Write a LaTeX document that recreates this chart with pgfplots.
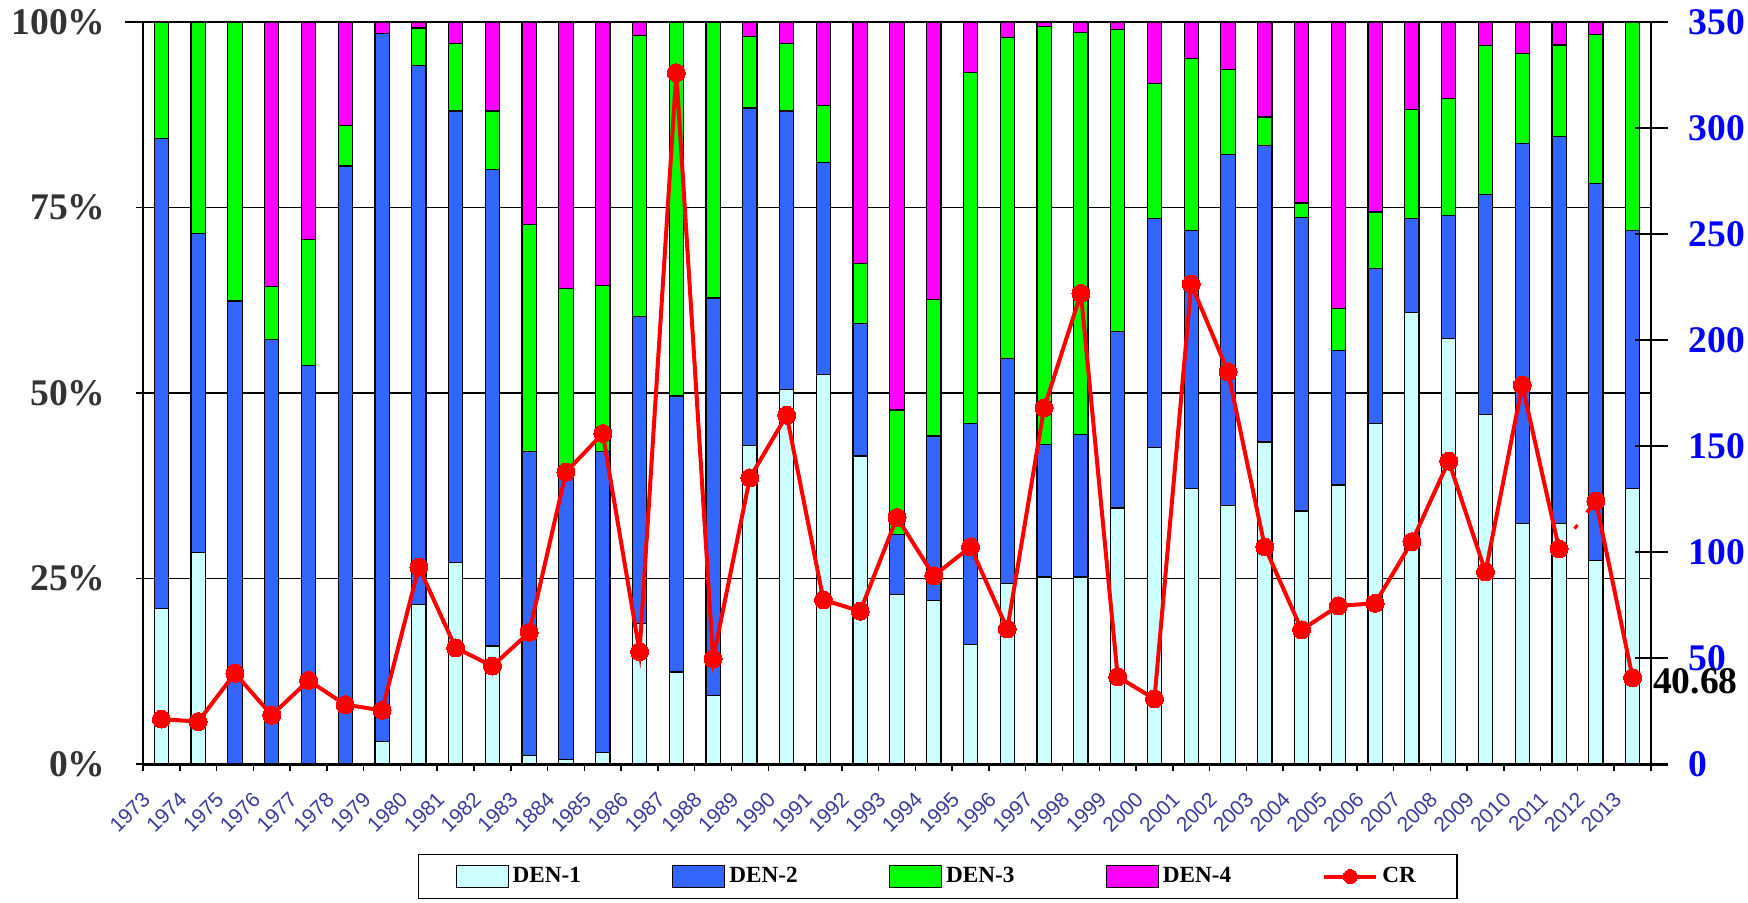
\documentclass[border=0pt]{standalone}
\usepackage{pgfplots}
\pgfplotsset{compat=1.18}
\usepackage{pgfplotstable}
\usepackage{fontspec}
\setmainfont{Liberation Serif}
\newfontfamily\arialfont{Liberation Sans}
\definecolor{dA}{HTML}{CCFFFF}
\definecolor{dB}{HTML}{3366FF}
\definecolor{dC}{HTML}{00FF00}
\definecolor{dD}{HTML}{FF00FF}
\definecolor{xlab}{HTML}{3A3A9E}
\definecolor{ylab}{HTML}{333333}

\pgfplotsset{
  barleg/.style={legend image code/.code={\draw[##1] (0pt,-5.5pt) rectangle (26pt,5.5pt);}},
  crleg/.style={legend image code/.code={\draw[##1, mark=none] (0pt,0pt) -- (26pt,0pt); \draw[##1] plot coordinates {(13pt,0pt)};}},
}

\pgfplotstableread{
x  d1   d2   d3   d4   cr
0  21.0 63.3 15.7 0.0  21.2
1  28.5 43.0 28.5 0.0  20.0
2  0.0  62.4 37.6 0.0  42.8
3  0.0  57.2 7.2  35.6 23.0
4  0.0  53.7 17.0 29.3 39.4
5  0.0  80.6 5.4  14.0 28.0
6  3.0  95.4 0.0  1.6  25.3
7  21.5 72.6 5.1  0.8  92.9
8  27.2 60.8 9.1  2.9  54.8
9  15.9 64.2 7.9  12.0 46.2
10 1.2  40.9 30.6 27.3 62.1
11 0.6  39.3 24.2 35.9 137.7
12 1.5  40.6 22.4 35.5 155.9
13 18.9 41.4 37.9 1.8  53.0
14 12.4 37.2 50.4 0.0  326.1
15 9.2  53.6 37.2 0.0  49.6
16 42.9 45.5 9.6  2.0  135.0
17 50.5 37.5 9.1  2.9  164.5
18 52.5 28.6 7.7  11.2 77.4
19 41.5 17.9 8.1  32.5 72.1
20 22.8 8.1  16.8 52.3 116.3
21 22.0 22.2 18.4 37.4 88.8
22 16.1 29.8 47.3 6.8  102.4
23 24.3 30.3 43.3 2.1  63.7
24 25.2 17.9 56.3 0.6  168.0
25 25.2 19.2 54.2 1.4  222.0
26 34.5 23.8 40.7 1.0  41.2
27 42.7 30.8 18.2 8.3  30.7
28 37.1 34.8 23.2 4.9  226.4
29 34.8 47.3 11.5 6.4  185.0
30 43.4 40.0 3.8  12.8 102.4
31 34.1 39.6 1.9  24.4 63.3
32 37.6 18.1 5.7  38.6 74.6
33 45.9 20.9 7.6  25.6 75.8
34 60.9 12.6 14.7 11.8 104.9
35 57.4 16.5 15.8 10.3 142.9
36 47.1 29.6 20.1 3.2  90.6
37 32.4 51.2 12.2 4.2  178.7
38 32.4 52.2 12.3 3.1  101.5
39 27.4 50.8 20.1 1.7  124.0
40 37.1 34.8 28.1 0.0  40.68
}\data

\begin{document}
\begin{tikzpicture}
\begin{axis}[
  at={(0pt,0pt)}, anchor=south west,
  scale only axis, width=754pt, height=371pt,
  xmin=-0.5, xmax=40.5, ymin=0, ymax=100,
  ybar stacked, bar width=7.15pt,
  axis x line*=bottom, axis y line*=left,
  x axis line style={line width=1.5pt, shorten >=-8.25pt},
  y axis line style={line width=1pt},
  xtick={-0.5,0.5,...,40.5},
  xticklabels={1973,1974,1975,1976,1977,1978,1979,1980,1981,1982,1983,1884,1985,1986,1987,1988,1989,1990,1991,1992,1993,1994,1995,1996,1997,1998,1999,2000,2001,2002,2003,2004,2005,2006,2007,2008,2009,2010,2011,2012,2013,{}},
  x tick label style={xshift=-1pt, yshift=-8pt, rotate=45, anchor=north east, inner sep=1pt, font=\arialfont\fontsize{10.5}{10.5}\selectfont, text=xlab},
  ytick={0,25,50,75,100},
  yticklabels={0\%,25\%,50\%,75\%,100\%},
  y tick label style={anchor=east, inner sep=0pt, xshift=-15pt, font=\fontsize{18.8}{18.8}\selectfont\bfseries, text=ylab},
  tick align=outside, major tick length=3.5pt,
  tick style={black, line width=0.75pt},
  ymajorgrids, grid style={black, line width=0.75pt, shorten <=-9pt},
  legend columns=5,
  legend style={at={(0.527,-0.1516)}, anchor=center, draw=black, line width=0.75pt,
    font=\fontsize{11.6}{11.6}\selectfont\bfseries,
    inner xsep=18.5pt, inner ysep=4.5pt,
    /tikz/every even column/.append style={column sep=43.6pt}},
]
\addplot[fill=dA, draw=black, line width=0.6pt, barleg] table[x=x, y=d1]{\data};
\addplot[fill=dB, draw=black, line width=0.6pt, barleg] table[x=x, y=d2]{\data};
\addplot[fill=dC, draw=black, line width=0.6pt, barleg] table[x=x, y=d3]{\data};
\addplot[fill=dD, draw=black, line width=0.6pt, barleg] table[x=x, y=d4]{\data};
\addlegendimage{red, line width=2pt, mark=*, mark size=3.5pt, mark options={fill=red, draw=red, line width=0pt}, crleg}
\legend{DEN-1,DEN-2,DEN-3,DEN-4,CR}
\end{axis}

\begin{axis}[
  at={(0pt,0pt)}, anchor=south west,
  scale only axis, width=754pt, height=371pt,
  xmin=-0.5, xmax=40.5, ymin=0, ymax=350,
  axis x line=none, axis y line*=right,
  y axis line style={line width=1pt},
  ytick={0,50,100,150,200,250,300,350},
  yticklabels={0,50,100,150,200,250,300,350},
  y tick label style={anchor=west, inner sep=0pt, xshift=10.5pt, font=\fontsize{18.8}{18.8}\selectfont\bfseries, text=blue},
  tick align=center, major tick length=16.5pt,
  tick style={black, line width=0.75pt},
  clip=false,
]
\addplot[red, line width=2pt, mark=*, mark size=4.5pt, mark options={fill=red, draw=red, line width=0pt}, restrict x to domain=0:38] table[x=x, y=cr]{\data};
\addplot[red, line width=2pt, mark=*, mark size=4.5pt, mark options={fill=red, draw=red, line width=0pt}, restrict x to domain=39:40] table[x=x, y=cr]{\data};
\addplot[red, line width=1.5pt] coordinates {(38.42,111.0) (38.50,112.8)};
\addplot[red, line width=2pt] coordinates {(38.76,118.6) (39,124.0)};
\node[anchor=west, inner sep=0pt, xshift=10pt, yshift=-1.5pt, font=\fontsize{18.8}{18.8}\selectfont\bfseries] at (axis cs:40,40.68) {40.68};
\end{axis}
\pgfresetboundingbox
\path[use as bounding box] (-71.5pt,-69pt) rectangle (802.5pt,382pt);
\end{tikzpicture}
\end{document}
